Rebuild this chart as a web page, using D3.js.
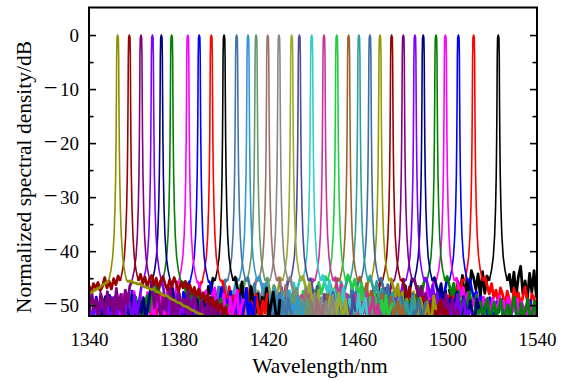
<!DOCTYPE html>
<html>
<head>
<meta charset="utf-8">
<script src="https://cdn.jsdelivr.net/npm/d3@7"></script>
<style>
  html, body { margin: 0; padding: 0; background: #fff; }
  svg { display: block; font-family: 'Liberation Serif', 'Times New Roman', serif; }
  svg text { font-family: 'Liberation Serif', 'Times New Roman', serif !important; }
</style>
</head>
<body>
<svg id="chart" width="564" height="382"></svg>
<script>
// peak centre wavelengths (nm), left to right
const peakCenters = [
  1352.8, 1358.0, 1363.2, 1368.3, 1372.3, 1376.9, 1384.1, 1389.2, 1394.6, 1400.3,
  1405.9, 1411.0, 1414.6, 1419.8, 1424.8, 1430.5, 1433.9, 1439.4, 1444.9, 1450.6,
  1455.9, 1460.5, 1465.4, 1469.9, 1475.1, 1480.3, 1485.5, 1489.2, 1494.9, 1499.1,
  1504.9, 1511.7, 1522.7
];

// shape of every peak: offset from centre (nm) and level (dB)
const peakOffsets = [-4, -3, -2.2, -1.6, -1.2, -0.9, -0.7, -0.55, -0.45, -0.3, 0, 0.3, 0.45, 0.55, 0.7, 0.9, 1.2, 1.6, 2.2, 3, 4];
const peakLevels = [-45.5, -43.5, -41, -37, -32, -26, -19, -11, -4, -0.5, 0, -0.5, -4, -11, -19, -26, -32, -37, -41, -43.5, -45.5];

// noise floor (dB), 1 nm apart, going outward from centre-5 nm
const floorLeft = [
  [-45.8,-46.1,-46.3,-46.7,-46.9,-47.2,-47.4,-47.7,-47.9],
  [-44.6,-46.2,-45.1,-47.0,-45.6,-46.8,-44.9,-46.5,-47.3,-45.8,-46.9,-46.0,-47.6,-46.4],
  [-46.5,-49.8,-47.2,-51.6,-48.0,-50.7,-46.9,-52.4,-48.6,-50.1,-47.5,-51.9,-49.2,-47.8,-52.6,-48.9,-50.8,-47.4,-51.2],
  [-46.8,-49.5,-51.8,-48.2,-52.9,-50.1,-47.9,-51.3,-53.0,-49.0,-50.6,-52.4,-48.5,-51.0,-53.1,-49.7,-52.0,-50.4,-48.8,-52.7,-51.2,-49.3,-53.2,-50.8],
  [-47.4,-50.3,-52.6,-48.6,-51.5,-49.2,-53.0,-50.7,-48.1,-52.3,-51.0,-49.6,-52.9,-50.0,-48.9,-51.8,-53.1,-49.5,-52.1,-50.6,-48.4,-52.7,-51.3],
  [-45.6,-47.8,-46.4,-49.5,-47.1,-51.2,-48.3,-50.6,-52.4,-49.0,-51.7,-48.5,-52.8,-50.3,-49.4,-52.0],
  [-46.3,-49.8,-48.0,-52.5,-47.2,-51.0,-53.0,-48.6,-50.4,-46.9,-52.8,-49.5,-51.6,-47.7,-53.1,-50.2,-48.3,-52.1,-50.9,-47.5,-51.8,-53.0,-49.1,-52.4,-48.0,-50.7,-53.2,-49.6,-51.3,-52.6],
  [-46.1,-49.4,-47.6,-51.9,-48.2,-53.0,-50.5,-47.0,-52.3,-49.1,-51.5,-48.4,-53.1,-50.0,-46.8,-52.6,-49.7,-51.2,-47.9,-53.0,-50.8,-48.6,-52.1,-49.3,-51.7,-47.4,-52.9,-50.1,-48.8,-53.2,-51.0,-49.5,-47.7,-52.4,-50.6,-48.2,-53.0,-51.4,-49.0,-52.7,-50.3,-48.5,-51.8,-53.1,-49.8],
  [-46.2,-48.9,-51.3,-47.4,-50.0,-52.8,-48.1,-53.1,-49.6,-51.6,-47.8,-52.3,-50.4,-48.7,-53.0,-51.0,-49.2,-52.5,-47.6,-50.8,-53.2,-49.9,-51.9,-48.4,-52.6,-50.3],
  [-45.0,-47.9,-46.5,-50.2,-48.4,-52.1,-47.2,-49.8,-53.0,-48.7,-51.4,-50.0,-52.6,-49.1,-51.8,-53.1],
  [-45.3,-47.5,-49.4,-46.6,-51.0,-48.1,-52.5,-49.7,-47.3,-53.0,-50.2,-48.6,-51.9,-49.0,-52.8,-50.5],
  [-45.1,-46.9,-48.8,-47.4,-50.3,-46.5,-51.8,-49.1,-52.9,-47.9,-50.7,-53.0,-48.6,-51.4,-49.8,-52.5],
  [-45.4,-47.7,-46.2,-49.9,-48.5,-51.6,-47.4,-52.8,-50.2,-48.9,-53.0,-49.5,-51.2,-47.9,-52.4,-50.7],
  [-45.2,-46.8,-48.5,-47.2,-50.6,-49.0,-52.3,-47.8,-51.1,-53.0,-48.6,-50.1,-52.7,-49.4,-51.8,-48.2],
  [-45.3,-47.4,-46.1,-49.2,-48.0,-51.4,-47.3,-52.6,-50.0,-48.7,-53.0,-49.9,-51.7,-48.3,-52.2,-50.4],
  [-45.0,-46.9,-48.2,-46.4,-49.8,-47.6,-51.5,-48.9,-52.7,-50.3,-47.4,-53.0,-49.6,-51.2,-48.4,-52.5],
  [-45.3,-47.8,-49.5,-46.7,-51.2,-48.4,-52.9,-49.9,-47.5,-53.0,-50.6,-48.1,-51.8,-49.3,-52.4,-50.2],
  [-44.8,-46.4,-48.1,-45.9,-49.7,-47.3,-51.1,-48.6,-52.4,-47.8,-50.5,-53.0,-49.2,-51.8,-48.5,-52.7],
  [-45.2,-47.1,-48.9,-46.6,-50.4,-48.2,-52.1,-49.6,-47.7,-53.0,-50.9,-48.8,-51.5,-49.4,-52.8,-50.0],
  [-44.7,-46.5,-47.9,-45.8,-49.4,-47.2,-51.0,-48.5,-52.3,-49.8,-47.4,-50.7,-53.0,-48.9,-51.6,-50.1],
  [-45.1,-47.0,-48.6,-46.3,-50.2,-48.0,-51.8,-49.3,-52.9,-47.6,-50.8,-53.0,-49.0,-51.4,-48.4,-52.3],
  [-44.9,-46.6,-48.3,-45.7,-49.8,-47.5,-51.4,-48.9,-52.6,-47.2,-50.5,-53.0,-49.6,-51.9,-48.1,-52.4],
  [-45.2,-47.3,-48.9,-46.4,-50.6,-48.1,-52.2,-49.5,-47.8,-53.0,-50.3,-48.7,-51.7,-49.9,-52.9,-50.8],
  [-45.3,-47.1,-48.8,-46.5,-50.4,-47.9,-52.0,-49.3,-52.8,-48.2,-50.9,-53.0,-49.7,-51.5,-48.6,-52.4],
  [-45.4,-47.6,-49.2,-46.8,-50.9,-48.3,-52.5,-49.7,-47.9,-53.0,-50.4,-48.6,-51.8,-49.1,-52.7,-50.6],
  [-45.5,-47.4,-49.0,-46.9,-50.7,-48.4,-52.3,-49.6,-53.0,-48.1,-51.2,-52.9,-49.8,-51.5,-48.8,-52.6],
  [-45.2,-47.5,-49.1,-46.7,-50.8,-48.2,-52.4,-49.5,-47.8,-53.0,-50.6,-48.5,-51.7,-49.3,-52.9,-50.1],
  [-45.1,-47.3,-48.9,-46.4,-50.6,-48.0,-52.2,-49.4,-53.0,-47.8,-50.9,-52.8,-49.7,-51.6,-48.5,-52.5],
  [-45.0,-47.2,-48.8,-46.5,-50.3,-47.9,-51.9,-49.2,-52.7,-48.3,-50.8,-53.0,-49.6,-51.4,-48.1,-52.4],
  [-45.2,-47.0,-48.7,-46.3,-50.1,-47.6,-51.7,-49.0,-52.6,-48.4,-50.5,-53.0,-49.3,-51.2,-47.9,-52.3],
  [-45.1,-47.3,-48.9,-46.6,-50.4,-48.1,-52.0,-49.3,-52.8,-48.5,-50.7,-53.0,-49.6,-51.5,-48.2,-52.6],
  [-45.3,-47.4,-46.2,-48.9,-47.6,-50.5,-48.3,-52.1,-49.4,-47.8,-51.3,-53.0,-49.9,-51.8,-48.6,-52.4],
  [-44.6,-47.8,-43.8,-48.5,-44.2,-47.1,-44.9,-43.6,-48.0,-45.2,-49.1,-44.5,-47.6,-45.6,-49.3,-46.2,-48.7,-47.0]
];

// noise floor (dB), 1 nm apart, going outward from centre+5 nm
const floorRight = [
  [-45.6,-45.5,-45.8,-45.9,-46.1,-46.0,-46.4,-46.6,-46.7,-46.9,-47.1,-47.0,-47.4,-47.6,-47.7,-48.0,-48.3,-48.2,-48.6,-48.9,-49.0,-49.3,-49.5,-49.6,-50.0,-50.2,-50.3,-50.6,-50.9,-51.0,-51.3,-51.5,-51.6,-51.9,-52.2,-52.4,-52.6,-52.8,-53.0],
  [-44.3,-45.9,-44.8,-46.7,-45.2,-44.5,-46.3,-45.0,-46.9,-45.5,-44.7,-46.1,-47.2,-45.3,-46.6,-44.9,-46.0,-47.4,-45.8,-46.8,-45.6,-47.1,-46.2,-47.9,-46.7,-48.3,-47.0,-48.8,-47.7,-49.4,-48.1,-49.9,-48.6,-50.5,-49.2,-51.0,-49.8,-51.6,-50.4,-52.3],
  [-46.2,-50.5,-47.6,-49.3,-52.1,-47.9,-50.9,-48.4,-46.8,-51.7,-49.0,-52.8,-47.7,-50.2,-48.8,-51.4,-47.3,-52.5,-49.6,-48.2,-51.1,-53.0,-49.4,-50.7,-52.2,-48.7,-51.8,-50.0,-53.2,-49.1,-51.5,-52.7,-50.3],
  [-47.0,-50.8,-48.3,-52.5,-49.4,-51.7,-48.0,-53.0,-50.2,-51.4,-49.1,-52.8,-50.6,-48.7,-52.2,-51.0,-53.1,-49.8,-51.9,-50.5,-52.6],
  [-46.9,-49.7,-52.2,-48.4,-51.1,-53.0,-49.9,-47.8,-52.5,-50.4,-51.7,-48.9,-53.1,-50.9,-49.2,-52.4,-51.5,-48.6,-52.9,-50.2,-51.8],
  [-45.8,-46.9,-48.2,-47.3,-49.6,-48.0,-50.8,-47.6,-51.9,-49.3,-48.4,-52.6,-50.1,-49.0,-51.4,-53.0,-50.5,-48.8,-52.2,-51.0,-49.7],
  [-46.0,-48.7,-51.4,-47.4,-50.2,-52.9,-48.1,-46.8,-51.1,-49.3,-53.0,-47.9,-50.6,-52.3,-48.5,-51.7,-49.9,-47.2,-52.7,-50.0,-48.8],
  [-45.9,-48.5,-47.1,-51.2,-49.8,-46.7,-52.7,-48.9,-50.6,-47.5,-53.0,-49.4,-51.5,-48.0,-52.2,-50.1,-46.9,-51.8,-49.6,-53.1,-48.3],
  [-45.5,-47.8,-49.9,-46.6,-51.2,-48.2,-52.6,-47.3,-50.4,-53.0,-48.8,-46.9,-51.7,-49.5,-52.9,-48.0,-50.7,-53.1,-49.2,-51.4,-47.7],
  [-44.8,-46.9,-48.6,-45.7,-50.3,-47.4,-52.0,-46.5,-49.2,-51.5,-47.9,-53.0,-48.5,-50.6,-46.8,-52.4,-49.7,-47.6,-51.2,-53.0,-48.9],
  [-44.9,-46.8,-48.9,-46.0,-50.5,-47.7,-52.2,-49.0,-47.1,-51.3,-53.0,-48.3,-50.0,-52.6,-47.8,-51.6,-49.4,-53.1,-48.7,-50.9,-52.3],
  [-44.7,-46.2,-47.8,-45.9,-49.6,-48.2,-51.3,-46.8,-50.5,-52.7,-48.0,-49.4,-53.0,-47.5,-51.1,-49.9,-52.2,-48.4,-50.8,-53.1,-49.3],
  [-45.0,-47.2,-49.0,-46.4,-50.8,-48.3,-52.5,-47.6,-51.1,-49.7,-53.0,-48.1,-50.4,-46.9,-52.0,-49.2,-51.7,-53.1,-48.8,-50.6,-52.9],
  [-44.9,-47.0,-48.7,-46.3,-50.1,-52.4,-47.9,-49.6,-51.5,-48.4,-53.0,-50.3,-47.5,-52.1,-49.1,-51.0,-53.1,-48.9,-50.7,-52.6,-49.8],
  [-44.8,-46.6,-48.4,-47.1,-50.2,-48.8,-52.0,-46.9,-51.3,-49.5,-53.0,-47.8,-50.9,-52.7,-48.6,-51.6,-49.3,-53.1,-50.5,-48.1,-52.4],
  [-44.6,-46.3,-47.9,-45.8,-49.5,-48.1,-51.0,-47.2,-52.3,-49.9,-50.8,-53.0,-48.5,-51.6,-49.2,-52.8,-47.7,-50.4,-53.1,-49.0,-51.9],
  [-45.1,-47.4,-49.1,-46.5,-50.7,-52.5,-48.0,-51.3,-49.6,-53.0,-47.7,-50.3,-52.1,-48.8,-51.6,-53.1,-49.4,-50.9,-52.7,-48.3,-51.2],
  [-44.5,-46.0,-47.6,-45.4,-49.3,-47.0,-50.8,-48.4,-52.0,-46.9,-50.1,-51.6,-48.9,-53.0,-49.7,-51.2,-47.9,-52.5,-50.4,-48.7,-53.1],
  [-44.9,-46.8,-48.5,-46.2,-50.0,-47.9,-51.7,-49.2,-52.6,-48.1,-50.8,-53.0,-49.5,-51.3,-47.6,-52.2,-50.5,-48.4,-53.1,-49.9,-51.8],
  [-44.4,-45.6,-47.0,-45.2,-46.8,-48.3,-45.9,-49.7,-47.5,-51.2,-48.6,-52.5,-47.9,-50.4,-53.0,-49.1,-51.7,-48.2,-52.8,-50.6,-49.5],
  [-44.8,-46.7,-48.2,-46.0,-49.9,-47.4,-51.5,-48.8,-52.7,-50.3,-47.9,-53.0,-49.6,-51.1,-48.5,-52.4,-50.7,-49.2,-53.1,-50.0,-51.9],
  [-44.6,-46.2,-47.8,-45.6,-49.4,-47.1,-50.9,-48.6,-52.2,-49.9,-47.7,-51.5,-53.0,-48.8,-50.6,-52.6,-49.3,-51.2,-53.1,-48.4,-50.8],
  [-45.0,-46.9,-48.6,-46.2,-50.3,-47.8,-51.9,-49.1,-52.8,-48.4,-50.7,-53.0,-49.7,-51.4,-47.9,-52.5,-50.1,-48.9,-53.1,-51.0,-49.4],
  [-45.1,-46.8,-48.4,-46.1,-50.0,-47.6,-51.6,-48.9,-52.6,-49.8,-47.5,-51.2,-53.0,-48.7,-50.5,-52.3,-49.4,-51.8,-53.1,-48.3,-50.9],
  [-45.2,-47.2,-48.9,-46.6,-50.5,-48.0,-52.1,-49.4,-53.0,-48.5,-51.0,-52.8,-49.9,-51.6,-48.2,-53.1,-50.3,-49.0,-52.4,-50.8,-51.9],
  [-45.3,-47.0,-48.7,-46.5,-50.2,-47.8,-51.9,-49.2,-52.8,-48.6,-50.9,-53.0,-49.5,-51.3,-47.9,-52.5,-50.4,-48.9,-53.1,-50.7,-51.8],
  [-45.0,-46.7,-48.5,-46.3,-50.1,-47.7,-51.8,-49.0,-52.7,-48.3,-50.8,-53.0,-49.6,-51.4,-48.0,-52.5,-50.3,-48.8,-53.1,-50.9,-51.6],
  [-44.9,-46.6,-48.2,-46.0,-49.8,-47.4,-51.5,-48.7,-52.6,-49.9,-47.6,-51.1,-53.0,-48.4,-50.5,-52.3,-49.2,-51.8,-53.1,-48.9,-50.7],
  [-44.7,-46.4,-48.1,-45.9,-49.6,-47.3,-51.2,-48.6,-52.5,-49.8,-47.5,-50.9,-53.0,-48.2,-51.6,-49.4,-52.8,-50.3,-48.7,-53.1,-51.0,-49.5,-52.2,-50.6,-48.9,-53.0,-51.5,-49.9,-52.7,-50.2,-48.4,-51.8,-53.1,-49.7,-52.3,-50.8,-48.8,-53.0,-51.3,-49.3,-52.6],
  [-45.0,-46.9,-48.4,-46.7,-49.9,-47.8,-51.3,-48.8,-50.2,-48.1,-49.6,-51.5,-48.5,-50.3,-49.1,-52.4,-48.7,-49.8,-50.9,-48.3,-50.6,-49.2,-52.1,-48.6,-49.7,-51.2,-50.0,-48.9,-52.8,-49.4,-50.5,-53.0,-49.0,-51.6,-50.1,-52.5,-49.5],
  [-45.2,-47.1,-48.8,-47.5,-50.2,-48.3,-51.6,-49.0,-52.7,-48.6,-50.9,-53.0,-49.4,-51.3,-48.9,-52.2,-50.5,-49.2,-53.1,-50.8,-48.7,-52.4,-51.0,-49.6,-53.0,-50.3,-51.8,-49.1,-52.9,-50.6,-51.4],
  [-44.8,-46.3,-47.9,-46.0,-48.6,-47.2,-49.5,-46.8,-48.1,-50.4,-47.4,-49.0,-51.2,-46.9,-48.8,-47.7,-50.1,-48.4,-46.6,-49.3,-51.5,-47.9,-48.7,-50.6],
  [-44.3,-47.5,-43.9,-48.2,-44.7,-42.8,-47.9,-45.5,-49.0,-44.1,-47.6,-43.6,-48.4,-44.8,-46.9,-43.4,-48.5,-44.6]
];

const wavelengthTicks = [1340, 1380, 1420, 1460, 1500, 1540];
const densityTicks = [0, -10, -20, -30, -40, -50];
const densityMinorTicks = [-5, -15, -25, -35, -45];

// line colours, one per peak
const palette = [
  '#8f8f00', '#990000', '#800080', '#8000ff', '#000080', '#008000', '#ff00ff', '#0000ff', '#ff0000', '#000000',
  '#3f75a8', '#3399cc', '#669966', '#a07070', '#888888', '#9aab2c', '#4c4c99', '#33cccc', '#cc3399', '#22cc44',
  '#a0622d', '#2e9e9e', '#3a6ea5', '#999900', '#990000', '#800080', '#8000ff', '#000080', '#008000', '#ff00ff',
  '#0000ff', '#ff0000', '#000000'
];

const width = 564;
const height = 382;
const margin = { left: 89, right: 27, top: 7.5, bottom: 66 };

const svg = d3.select('#chart').attr('viewBox', `0 0 ${width} ${height}`);

const x = d3.scaleLinear().domain([1340, 1540]).range([margin.left, width - margin.right]);
const y = d3.scaleLinear().domain([-52, 5.1]).range([height - margin.bottom, margin.top]);

svg.append('defs')
  .append('clipPath')
  .attr('id', 'plot-clip')
  .append('rect')
  .attr('x', x(1340))
  .attr('y', y(5.1))
  .attr('width', x(1540) - x(1340))
  .attr('height', y(-52) - y(5.1));

const spectra = peakCenters.map((center, i) => {
  const left = floorLeft[i].map((v, k) => ({ w: center - 5 - k, v })).reverse();
  const peak = peakOffsets.map((o, j) => ({ w: center + o, v: peakLevels[j] }));
  const right = floorRight[i].map((v, k) => ({ w: center + 5 + k, v }));
  return {
    index: i,
    floors: [left.concat(peak[0]), [peak[peak.length - 1]].concat(right)],
    peak
  };
});

const line = d3.line()
  .x((d) => x(d.w))
  .y((d) => y(d.v));

// last series drawn first so the left-hand traces sit on top
const traces = svg.append('g')
  .attr('clip-path', 'url(#plot-clip)')
  .selectAll('g')
  .data(spectra.slice().reverse())
  .join('g')
  .attr('fill', 'none')
  .attr('stroke', (d) => palette[d.index])
  .attr('stroke-linejoin', 'round');

traces.selectAll('path.floor')
  .data((d) => d.floors)
  .join('path')
  .attr('class', 'floor')
  .attr('d', line)
  .attr('stroke-width', 2.8);

traces.append('path')
  .attr('d', (d) => line(d.peak))
  .attr('stroke-width', 1.6);

// ticks point inward; labels in Times-like serif
function styleAxis(g) {
  g.select('.domain').remove();
  g.attr('font-size', 19);
  g.selectAll('line').attr('stroke-width', 1.6);
  g.selectAll('text').attr('fill', '#000');
}

svg.append('g')
  .attr('transform', `translate(${x(1340)},0)`)
  .call(d3.axisLeft(y).tickValues(densityTicks).tickSize(-7).tickPadding(10))
  .call(styleAxis)
  .selectAll('.tick text')
  .each(function (d) {
    // long minus sign as in the original figure
    const label = d3.select(this).text(null);
    if (d < 0) {
      label.append('tspan').attr('font-size', 25).text('\u2212');
      label.append('tspan').attr('dx', 2.5).text(Math.abs(d));
    } else {
      label.text(d);
    }
  });

svg.append('g')
  .attr('transform', `translate(${x(1340)},0)`)
  .call(d3.axisLeft(y).tickValues(densityMinorTicks).tickSize(-4.5).tickFormat(''))
  .call(styleAxis);

svg.append('g')
  .attr('transform', `translate(${x(1540)},0)`)
  .call(d3.axisRight(y).tickValues(densityTicks).tickSize(-7).tickFormat(''))
  .call(styleAxis);

svg.append('g')
  .attr('transform', `translate(${x(1540)},0)`)
  .call(d3.axisRight(y).tickValues(densityMinorTicks).tickSize(-4.5).tickFormat(''))
  .call(styleAxis);

svg.append('g')
  .attr('transform', `translate(0,${y(-52)})`)
  .call(d3.axisBottom(x).tickValues(wavelengthTicks).tickSize(0).tickPadding(16.5).tickFormat(d3.format('d')))
  .call(styleAxis);

// frame
svg.append('rect')
  .attr('x', x(1340))
  .attr('y', y(5.1))
  .attr('width', x(1540) - x(1340))
  .attr('height', y(-52) - y(5.1))
  .attr('fill', 'none')
  .attr('stroke', '#000')
  .attr('stroke-width', 2);

svg.append('text')
  .attr('x', 320)
  .attr('y', 373)
  .attr('text-anchor', 'middle')
  .attr('font-size', 21.5)
  .text('Wavelength/nm');

svg.append('text')
  .attr('transform', 'translate(31,177) rotate(-90)')
  .attr('text-anchor', 'middle')
  .attr('font-size', 21.5)
  .text('Normalized spectral density/dB');
</script>
</body>
</html>
